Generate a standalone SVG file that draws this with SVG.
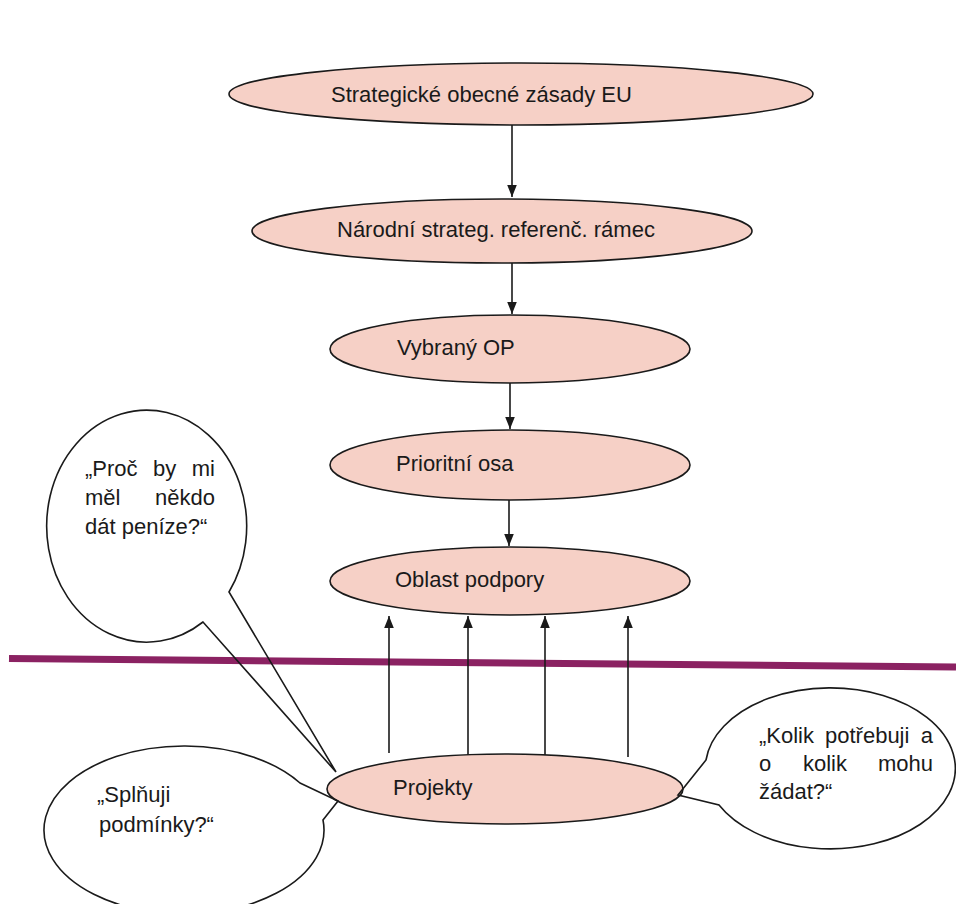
<svg xmlns="http://www.w3.org/2000/svg" width="956" height="904" viewBox="0 0 956 904">
<defs>
<style>
.node{fill:#f6d0c6;stroke:#1a1a1a;stroke-width:1.6}
.bub{fill:none;stroke:#1a1a1a;stroke-width:1.6;stroke-linejoin:miter}
.t{font-family:"Liberation Sans",Arial,sans-serif;font-size:22px;fill:#1a1a1a}
.e{text-anchor:end}
.c{stroke:#1a1a1a;stroke-width:1.6;fill:none}
</style>
<marker id="ah" markerUnits="userSpaceOnUse" markerWidth="12" markerHeight="15" refX="15" refY="6" orient="auto" viewBox="0 0 15 12">
<path d="M0,0 L15,6 L0,12 Z" fill="#1a1a1a"/>
</marker>
</defs>
<rect width="956" height="904" fill="#ffffff"/>
<line x1="9" y1="658.5" x2="956" y2="667" stroke="#8b2262" stroke-width="7"/>
<g id="connectors">
<line class="c" x1="512" y1="125" x2="512" y2="197" marker-end="url(#ah)"/>
<line class="c" x1="512" y1="263" x2="512" y2="314" marker-end="url(#ah)"/>
<line class="c" x1="510" y1="383" x2="510" y2="429" marker-end="url(#ah)"/>
<line class="c" x1="509" y1="500" x2="509" y2="546" marker-end="url(#ah)"/>
<line class="c" x1="389" y1="753" x2="389" y2="616" marker-end="url(#ah)"/>
<line class="c" x1="468" y1="755" x2="468" y2="616" marker-end="url(#ah)"/>
<line class="c" x1="545" y1="755" x2="545" y2="616" marker-end="url(#ah)"/>
<line class="c" x1="628" y1="757" x2="628" y2="616" marker-end="url(#ah)"/>
</g>
<g id="n1"><ellipse class="node" cx="521" cy="94" rx="292" ry="31"/><text class="t" x="331" y="102">Strategické obecné zásady EU</text></g>
<g id="n2"><ellipse class="node" cx="502" cy="231" rx="250" ry="32"/><text class="t" x="337" y="237">Národní strateg. referenč. rámec</text></g>
<g id="n3"><ellipse class="node" cx="510" cy="349" rx="180" ry="34"/><text class="t" x="397" y="355">Vybraný OP</text></g>
<g id="n4"><ellipse class="node" cx="510" cy="465" rx="180" ry="35"/><text class="t" x="396" y="471">Prioritní osa</text></g>
<g id="n5"><ellipse class="node" cx="510" cy="581" rx="180" ry="34"/><text class="t" x="395" y="587">Oblast podpory</text></g>
<g id="n6"><ellipse class="node" cx="505" cy="789" rx="178" ry="35"/><text class="t" x="393" y="795">Projekty</text></g>
<g id="b1">
<path class="bub" d="M229,592 A100,116 0 1 0 203,622 L336,772 Z"/>
<text class="t" x="85" y="476">„Proč</text><text class="t" x="153" y="476">by</text><text class="t e" x="215" y="476">mi</text>
<text class="t" x="85" y="505">měl</text><text class="t e" x="215" y="505">někdo</text>
<text class="t" x="85" y="534">dát peníze?“</text>
</g>
<g id="b2">
<path class="bub" d="M300,783 L338,801 L323,820 A140,84 0 1 1 300,783 Z"/>
<text class="t" x="97" y="802">„Splňuji</text>
<text class="t" x="99" y="832">podmínky?“</text>
</g>
<g id="b3">
<path class="bub" d="M706,760 A125,80.5 0 1 1 719,805 L678,795 Z"/>
<text class="t" x="759" y="743">„Kolik</text><text class="t" x="825" y="743">potřebuji</text><text class="t e" x="933" y="743">a</text>
<text class="t" x="759" y="771">o</text><text class="t" x="803" y="771">kolik</text><text class="t e" x="933" y="771">mohu</text>
<text class="t" x="759" y="799">žádat?“</text>
</g>
</svg>
